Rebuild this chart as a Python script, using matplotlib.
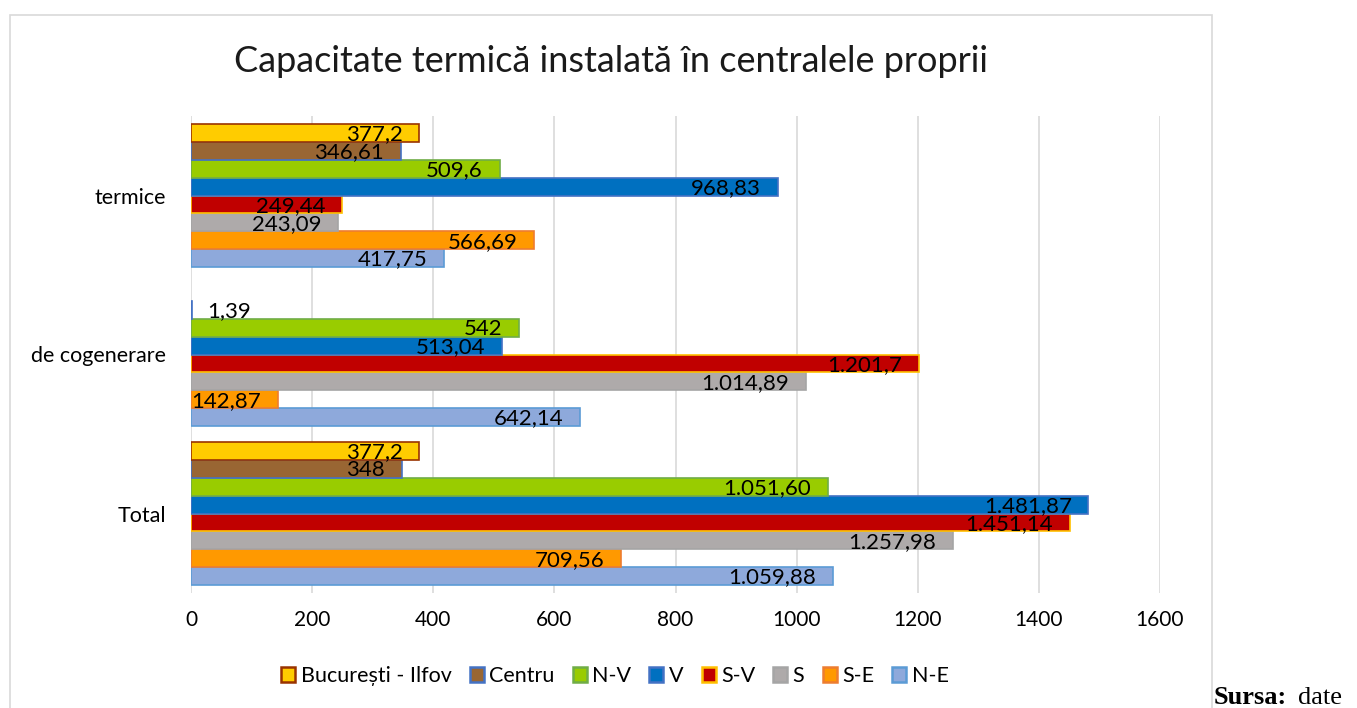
import matplotlib
matplotlib.use("Agg")
import matplotlib.pyplot as plt
from matplotlib.patches import Rectangle, Patch
import numpy as np

categories = ["Total", "de cogenerare", "termice"]
series = ["N-E", "S-E", "S", "S-V", "V", "N-V", "Centru", "București - Ilfov"]
values = {
    "N-E": [1059.88, 642.14, 417.75],
    "S-E": [709.56, 142.87, 566.69],
    "S": [1257.98, 1014.89, 243.09],
    "S-V": [1451.14, 1201.7, 249.44],
    "V": [1481.87, 513.04, 968.83],
    "N-V": [1051.60, 542, 509.6],
    "Centru": [348, 1.39, 346.61],
    "București - Ilfov": [377.2, 0, 377.2],
}
labels = {
    "N-E": ["1.059,88", "642,14", "417,75"],
    "S-E": ["709,56", "142,87", "566,69"],
    "S": ["1.257,98", "1.014,89", "243,09"],
    "S-V": ["1.451,14", "1.201,7", "249,44"],
    "V": ["1.481,87", "513,04", "968,83"],
    "N-V": ["1.051,60", "542", "509,6"],
    "Centru": ["348", "1,39", "346,61"],
    "București - Ilfov": ["377,2", "", "377,2"],
}
fills = {
    "N-E": "#8EA9DB", "S-E": "#FF9900", "S": "#AEAAAA", "S-V": "#C00000",
    "V": "#0070C0", "N-V": "#99CC00", "Centru": "#996633", "București - Ilfov": "#FFCC00",
}
edges = {
    "N-E": "#5B9BD5", "S-E": "#ED7D31", "S": "#A5A5A5", "S-V": "#FFC000",
    "V": "#4472C4", "N-V": "#70AD47", "Centru": "#4472C4", "București - Ilfov": "#993300",
}
xticks = [0, 200, 400, 600, 800, 1000, 1200, 1400, 1600]

plt.rcParams['font.family'] = ['Lato', 'DejaVu Sans']

W, H = 1357, 708
fig = plt.figure(figsize=(W / 100, H / 100), dpi=100)
fig.patch.set_facecolor("white")

# outer chart frame
fig.patches.append(Rectangle((10 / W, -0.01), (1212 - 10) / W, 1 - 15 / H + 0.01,
                             transform=fig.transFigure, fill=False,
                             edgecolor="#D9D9D9", lw=1.2))

ax = fig.add_axes([191 / W, 1 - 593 / H, (1160 - 191) / W, (593 - 116) / H])
n = len(series)
bh = 0.9 / n
y = np.arange(len(categories))
for i, s in enumerate(series):
    ypos = y - 0.45 + bh * (i + 0.5)
    vals = values[s]
    for j, (yy, v) in enumerate(zip(ypos, vals)):
        if v <= 0:
            continue
        ax.barh(yy, v, height=bh, color=fills[s], edgecolor=edges[s], lw=1.2, zorder=3)
        lab = labels[s][j]
        if v < 100:
            ax.annotate(lab, (v, yy), xytext=(11, -1), textcoords="offset points",
                        ha="left", va="center", fontsize=16, color="black", zorder=4)
        else:
            ax.annotate(lab, (v, yy), xytext=(-12, -1), textcoords="offset points",
                        ha="right", va="center", fontsize=16, color="black", zorder=4)

ax.set_xlim(0, 1600)
ax.set_ylim(-0.5, 2.5)
ax.set_xticks(xticks)
ax.set_xticklabels([str(t) for t in xticks], fontsize=15)
ax.set_yticks(y)
ax.set_yticklabels(categories, fontsize=15.5)
ax.tick_params(length=0, pad=18, axis="y")
ax.tick_params(length=0, pad=12, axis="x")
ax.grid(axis="x", color="#D9D9D9", lw=1.2, zorder=0)
for sp in ax.spines.values():
    sp.set_visible(False)

fig.text(611 / W, 1 - 62 / H, "Capacitate termică instalată în centralele proprii",
         ha="center", va="center", fontsize=26, color="#1a1a1a")

# legend
handles = [Patch(facecolor=fills[s], edgecolor=edges[s], lw=1.8, label=s) for s in series[::-1]]
fig.legend(handles=handles, loc="center", bbox_to_anchor=(615 / W, 1 - 676 / H),
           ncol=8, frameon=False, fontsize=15.5, handlelength=0.65, handleheight=0.65,
           handletextpad=0.25, columnspacing=0.85, borderpad=0)

fig.text(1214 / W, 1 - 704 / H, "Sursa:", fontsize=19, fontweight="bold",
         family="Liberation Serif", va="baseline", ha="left")
fig.text(1298 / W, 1 - 704 / H, "date", fontsize=19,
         family="Liberation Serif", va="baseline", ha="left")

fig.savefig("out.png", dpi=100)
